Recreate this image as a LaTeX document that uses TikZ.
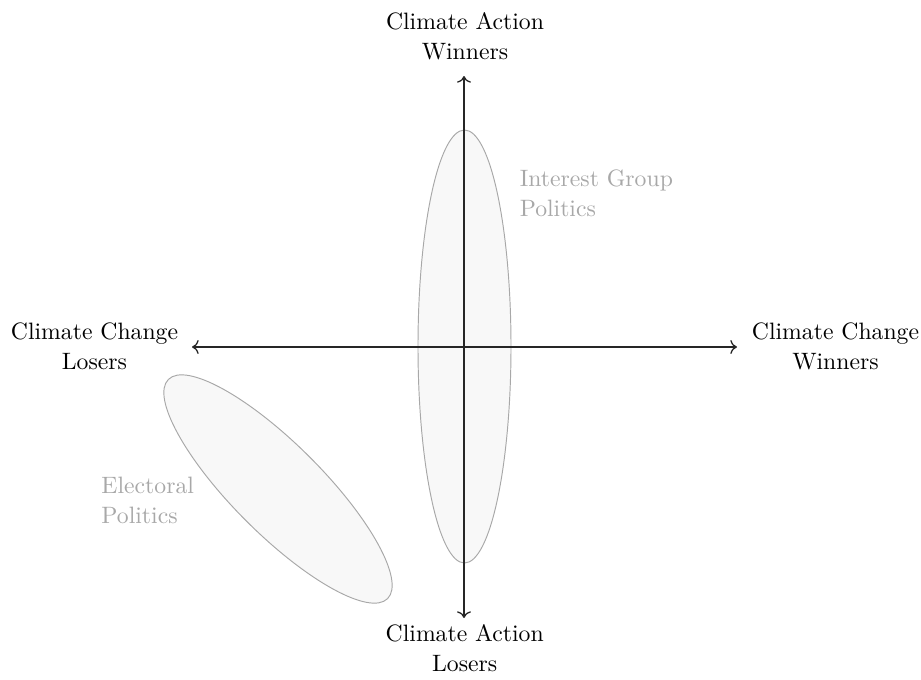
\documentclass[tikz,border=0pt]{standalone}
\usetikzlibrary{arrows.meta}
\definecolor{zonegray}{HTML}{A8A8A8}
\definecolor{zonefill}{HTML}{F8F8F8}
\begin{document}
\begin{tikzpicture}[x=0.422pt,y=0.422pt,
  axislabel/.style={inner sep=0pt,align=center,anchor=north,font=\fontsize{10}{12.7}\selectfont},
  zonelabel/.style={inner sep=0pt,align=left,anchor=north west,text=zonegray,font=\fontsize{10}{12.7}\selectfont},
  zone/.style={draw=zonegray,fill=zonefill,line width=0.4pt},
  axis/.style={<->,line width=0.55pt,black!85}]
\useasboundingbox (0,0) rectangle (921,679);
% zones
\draw[zone] (464.5,332.5) ellipse [x radius=46.5, y radius=216.5];
\begin{scope}[shift={(278,190)},rotate=-45]
\draw[zone] (0,0) ellipse [x radius=155, y radius=45];
\end{scope}
% axes
\coordinate (west) at (192,332);
\coordinate (east) at (737,332);
\coordinate (north) at (464,603);
\coordinate (south) at (464,61);
\draw[axis] (west) -- (east);
\draw[axis] (south) -- (north);
% labels
\node[axislabel] (caw) at (465,667.1) {Climate Action\\Winners};
\node[axislabel] (cal) at (464.7,55.4) {Climate Action\\Losers};
\node[axislabel] (ccl) at (94.5,357.1) {Climate Change\\Losers};
\node[axislabel] (ccw) at (835.5,357.1) {Climate Change\\Winners};
\node[zonelabel] (igp) at (519.3,509.5) {Interest Group\\Politics};
\node[zonelabel] (elp) at (101,202.1) {Electoral\\Politics};
\end{tikzpicture}
\end{document}
